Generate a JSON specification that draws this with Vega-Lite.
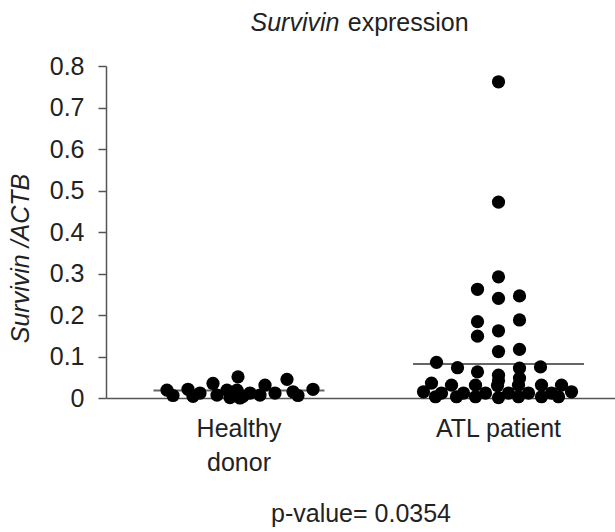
{
  "$schema": "https://vega.github.io/schema/vega-lite/v6.json",
  "width": 509,
  "height": 332,
  "autosize": {"type": "none"},
  "padding": {"left": 106, "top": 66, "right": 0, "bottom": 134},
  "background": "white",
  "title": {
    "text": "Survivin",
    "subtitle": "\u200b\u00a0\u00a0\u00a0\u00a0\u00a0\u00a0\u00a0\u00a0\u00a0\u00a0\u00a0\u00a0\u00a0\u00a0expression",
    "font": "Liberation Sans",
    "fontSize": 25,
    "fontStyle": "italic",
    "fontWeight": "normal",
    "color": "#222",
    "subtitleFont": "Liberation Sans",
    "subtitleFontSize": 25,
    "subtitleFontStyle": "normal",
    "subtitleFontWeight": "normal",
    "subtitleColor": "#222",
    "subtitlePadding": -25,
    "anchor": "middle",
    "align": "left",
    "dx": -110,
    "offset": 18
  },
  "datasets": {
    "points": [
      {"group": "Healthy donor", "jitter": -7.2, "value": 0.019},
      {"group": "Healthy donor", "jitter": -6.6, "value": 0.006},
      {"group": "Healthy donor", "jitter": -5.1, "value": 0.021},
      {"group": "Healthy donor", "jitter": -4.6, "value": 0.004},
      {"group": "Healthy donor", "jitter": -3.9, "value": 0.012},
      {"group": "Healthy donor", "jitter": -2.6, "value": 0.035},
      {"group": "Healthy donor", "jitter": -2.2, "value": 0.007},
      {"group": "Healthy donor", "jitter": -1.2, "value": 0.019},
      {"group": "Healthy donor", "jitter": -0.9, "value": 0.001},
      {"group": "Healthy donor", "jitter": -0.1, "value": 0.051},
      {"group": "Healthy donor", "jitter": -0.2, "value": 0.019},
      {"group": "Healthy donor", "jitter": 0.1, "value": 0.0},
      {"group": "Healthy donor", "jitter": 0.4, "value": 0.004},
      {"group": "Healthy donor", "jitter": 1.1, "value": 0.012},
      {"group": "Healthy donor", "jitter": 2.1, "value": 0.007},
      {"group": "Healthy donor", "jitter": 2.6, "value": 0.031},
      {"group": "Healthy donor", "jitter": 3.6, "value": 0.012},
      {"group": "Healthy donor", "jitter": 4.8, "value": 0.045},
      {"group": "Healthy donor", "jitter": 5.4, "value": 0.015},
      {"group": "Healthy donor", "jitter": 5.9, "value": 0.006},
      {"group": "Healthy donor", "jitter": 7.4, "value": 0.021},
      {"group": "ATL patient", "jitter": 0.0, "value": 0.762},
      {"group": "ATL patient", "jitter": 0.0, "value": 0.472},
      {"group": "ATL patient", "jitter": 0.0, "value": 0.292},
      {"group": "ATL patient", "jitter": -2.1, "value": 0.262},
      {"group": "ATL patient", "jitter": 2.1, "value": 0.246},
      {"group": "ATL patient", "jitter": 0.0, "value": 0.24},
      {"group": "ATL patient", "jitter": 2.1, "value": 0.188},
      {"group": "ATL patient", "jitter": -2.1, "value": 0.184},
      {"group": "ATL patient", "jitter": 0.0, "value": 0.162},
      {"group": "ATL patient", "jitter": -2.1, "value": 0.149},
      {"group": "ATL patient", "jitter": 2.1, "value": 0.117},
      {"group": "ATL patient", "jitter": 0.0, "value": 0.112},
      {"group": "ATL patient", "jitter": -6.2, "value": 0.086},
      {"group": "ATL patient", "jitter": 4.2, "value": 0.075},
      {"group": "ATL patient", "jitter": -4.1, "value": 0.073},
      {"group": "ATL patient", "jitter": 2.1, "value": 0.072},
      {"group": "ATL patient", "jitter": -2.1, "value": 0.063},
      {"group": "ATL patient", "jitter": 0.0, "value": 0.055},
      {"group": "ATL patient", "jitter": 2.1, "value": 0.048},
      {"group": "ATL patient", "jitter": 0.0, "value": 0.042},
      {"group": "ATL patient", "jitter": -6.7, "value": 0.036},
      {"group": "ATL patient", "jitter": -4.7, "value": 0.031},
      {"group": "ATL patient", "jitter": -2.3, "value": 0.031},
      {"group": "ATL patient", "jitter": -0.1, "value": 0.03},
      {"group": "ATL patient", "jitter": 2.0, "value": 0.031},
      {"group": "ATL patient", "jitter": 4.3, "value": 0.031},
      {"group": "ATL patient", "jitter": 6.3, "value": 0.031},
      {"group": "ATL patient", "jitter": -7.5, "value": 0.015},
      {"group": "ATL patient", "jitter": -5.7, "value": 0.012},
      {"group": "ATL patient", "jitter": -3.5, "value": 0.012},
      {"group": "ATL patient", "jitter": -1.3, "value": 0.012},
      {"group": "ATL patient", "jitter": 1.0, "value": 0.012},
      {"group": "ATL patient", "jitter": 3.0, "value": 0.012},
      {"group": "ATL patient", "jitter": 5.3, "value": 0.012},
      {"group": "ATL patient", "jitter": 7.3, "value": 0.015},
      {"group": "ATL patient", "jitter": -6.3, "value": 0.003},
      {"group": "ATL patient", "jitter": -4.2, "value": 0.003},
      {"group": "ATL patient", "jitter": -2.3, "value": 0.003},
      {"group": "ATL patient", "jitter": 0.0, "value": 0.001},
      {"group": "ATL patient", "jitter": 2.0, "value": 0.003},
      {"group": "ATL patient", "jitter": 4.3, "value": 0.003},
      {"group": "ATL patient", "jitter": 6.0, "value": 0.003}
    ],
    "means": [
      {"group": "Healthy donor", "mean": 0.018},
      {"group": "ATL patient", "mean": 0.082}
    ]
  },
  "encoding": {
    "x": {
      "field": "group",
      "type": "nominal",
      "sort": ["Healthy donor", "ATL patient"],
      "scale": {"paddingInner": 0.2, "paddingOuter": 0.0807, "align": 0.697},
      "axis": {
        "title": "p-value= 0.0354",
        "titleFont": "Liberation Sans",
        "titleFontSize": 25,
        "titleFontWeight": "normal",
        "titleColor": "#222",
        "titlePadding": 26,
        "labelExpr": "datum.value == 'Healthy donor' ? ['Healthy', 'donor'] : datum.label",
        "labelAngle": 0,
        "labelFont": "Liberation Sans",
        "labelFontSize": 25,
        "labelColor": "#222",
        "labelLineHeight": 34,
        "labelPadding": 18,
        "ticks": false,
        "grid": false,
        "domainColor": "#555",
        "domainWidth": 1.5
      }
    }
  },
  "layer": [
    {
      "data": {"name": "means"},
      "mark": {"type": "tick", "orient": "horizontal", "size": 171, "thickness": 2, "color": "#666", "opacity": 1},
      "encoding": {
        "y": {"field": "mean", "type": "quantitative", "scale": {"domain": [0, 0.8], "nice": false}}
      }
    },
    {
      "data": {"name": "points"},
      "mark": {"type": "circle", "size": 175, "opacity": 1, "color": "#000"},
      "encoding": {
        "xOffset": {"field": "jitter", "type": "quantitative", "scale": {"domain": [-10.38, 10.38]}},
        "y": {
          "field": "value",
          "type": "quantitative",
          "scale": {"domain": [0, 0.8], "nice": false},
          "axis": {
            "values": [0, 0.1, 0.2, 0.3, 0.4, 0.5, 0.6, 0.7, 0.8],
            "format": ".1~f",
            "title": "Survivin /ACTB",
            "titleFont": "Liberation Sans",
            "titleFontSize": 25,
            "titleFontStyle": "italic",
            "titleFontWeight": "normal",
            "titleColor": "#222",
            "titlePadding": 16,
            "titleY": 192,
            "labelFont": "Liberation Sans",
            "labelFontSize": 25,
            "labelColor": "#222",
            "labelPadding": 14,
            "labelFlush": false,
            "labelOverlap": false,
            "tickSize": 8,
            "tickColor": "#555",
            "tickWidth": 1.5,
            "domainColor": "#555",
            "domainWidth": 1.5,
            "grid": false
          }
        }
      }
    }
  ],
  "config": {"view": {"stroke": null}}
}
